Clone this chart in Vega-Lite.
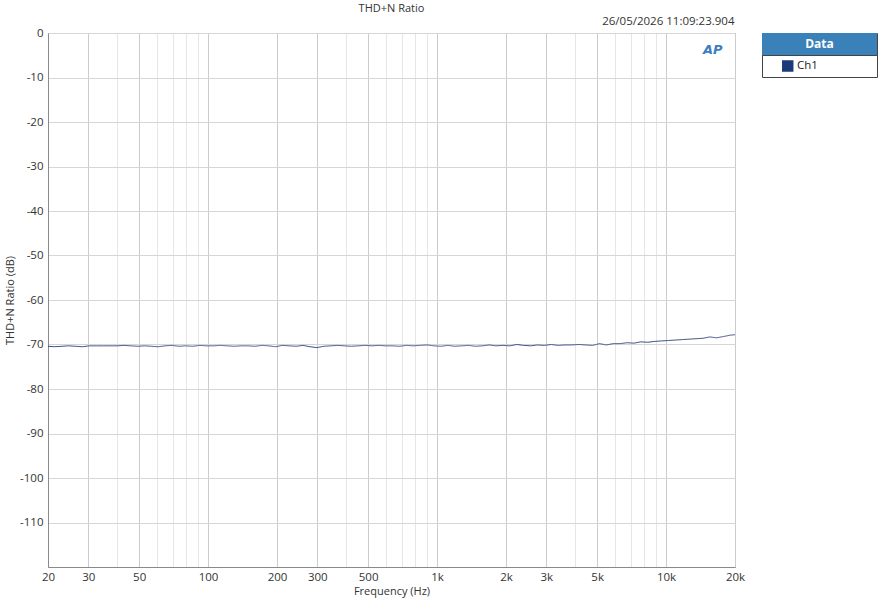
{
  "$schema": "https://vega.github.io/schema/vega-lite/v6.json",
  "width": 687,
  "height": 534,
  "autosize": "none",
  "padding": {"left": 48, "top": 33, "right": 147, "bottom": 33},
  "background": "white",
  "title": {
    "text": "THD+N Ratio",
    "anchor": "middle",
    "frame": "group",
    "fontSize": 11,
    "fontWeight": "normal",
    "color": "#333333",
    "offset": 1
  },
  "datasets": {
    "thd": [
      {"f": 20, "db": -70.4, "series": "Ch1"}, {"f": 21.4, "db": -70.5, "series": "Ch1"},
      {"f": 23.0, "db": -70.4, "series": "Ch1"}, {"f": 24.6, "db": -70.3, "series": "Ch1"},
      {"f": 26.4, "db": -70.4, "series": "Ch1"}, {"f": 28.3, "db": -70.5, "series": "Ch1"},
      {"f": 30.3, "db": -70.3, "series": "Ch1"}, {"f": 32.5, "db": -70.3, "series": "Ch1"},
      {"f": 34.8, "db": -70.3, "series": "Ch1"}, {"f": 37.3, "db": -70.3, "series": "Ch1"},
      {"f": 40, "db": -70.3, "series": "Ch1"}, {"f": 42.9, "db": -70.2, "series": "Ch1"},
      {"f": 45.9, "db": -70.3, "series": "Ch1"}, {"f": 49.2, "db": -70.4, "series": "Ch1"},
      {"f": 52.8, "db": -70.3, "series": "Ch1"}, {"f": 56.6, "db": -70.4, "series": "Ch1"},
      {"f": 60.6, "db": -70.5, "series": "Ch1"}, {"f": 65.0, "db": -70.3, "series": "Ch1"},
      {"f": 69.6, "db": -70.2, "series": "Ch1"}, {"f": 74.6, "db": -70.4, "series": "Ch1"},
      {"f": 80, "db": -70.3, "series": "Ch1"}, {"f": 85.7, "db": -70.4, "series": "Ch1"},
      {"f": 91.9, "db": -70.2, "series": "Ch1"}, {"f": 98.5, "db": -70.3, "series": "Ch1"},
      {"f": 105.6, "db": -70.3, "series": "Ch1"}, {"f": 113.1, "db": -70.2, "series": "Ch1"},
      {"f": 121.3, "db": -70.3, "series": "Ch1"}, {"f": 130, "db": -70.4, "series": "Ch1"},
      {"f": 139.3, "db": -70.3, "series": "Ch1"}, {"f": 149.3, "db": -70.3, "series": "Ch1"},
      {"f": 160, "db": -70.4, "series": "Ch1"}, {"f": 171.5, "db": -70.2, "series": "Ch1"},
      {"f": 183.8, "db": -70.3, "series": "Ch1"}, {"f": 197, "db": -70.5, "series": "Ch1"},
      {"f": 211.1, "db": -70.2, "series": "Ch1"}, {"f": 226.3, "db": -70.3, "series": "Ch1"},
      {"f": 242.5, "db": -70.4, "series": "Ch1"}, {"f": 259.9, "db": -70.2, "series": "Ch1"},
      {"f": 278.6, "db": -70.5, "series": "Ch1"}, {"f": 298.6, "db": -70.7, "series": "Ch1"},
      {"f": 320, "db": -70.4, "series": "Ch1"}, {"f": 343, "db": -70.3, "series": "Ch1"},
      {"f": 367.6, "db": -70.2, "series": "Ch1"}, {"f": 394, "db": -70.3, "series": "Ch1"},
      {"f": 422.2, "db": -70.4, "series": "Ch1"}, {"f": 452.5, "db": -70.3, "series": "Ch1"},
      {"f": 485, "db": -70.2, "series": "Ch1"}, {"f": 519.8, "db": -70.3, "series": "Ch1"},
      {"f": 557.2, "db": -70.2, "series": "Ch1"}, {"f": 597.1, "db": -70.3, "series": "Ch1"},
      {"f": 640, "db": -70.3, "series": "Ch1"}, {"f": 686, "db": -70.4, "series": "Ch1"},
      {"f": 735.2, "db": -70.2, "series": "Ch1"}, {"f": 788, "db": -70.3, "series": "Ch1"},
      {"f": 844.5, "db": -70.2, "series": "Ch1"}, {"f": 905.1, "db": -70.1, "series": "Ch1"},
      {"f": 970, "db": -70.3, "series": "Ch1"}, {"f": 1039.6, "db": -70.4, "series": "Ch1"},
      {"f": 1114.3, "db": -70.2, "series": "Ch1"}, {"f": 1194.3, "db": -70.4, "series": "Ch1"},
      {"f": 1280, "db": -70.3, "series": "Ch1"}, {"f": 1372, "db": -70.2, "series": "Ch1"},
      {"f": 1470, "db": -70.4, "series": "Ch1"}, {"f": 1576, "db": -70.3, "series": "Ch1"},
      {"f": 1689, "db": -70.1, "series": "Ch1"}, {"f": 1810, "db": -70.3, "series": "Ch1"},
      {"f": 1940, "db": -70.2, "series": "Ch1"}, {"f": 2079, "db": -70.3, "series": "Ch1"},
      {"f": 2229, "db": -70.0, "series": "Ch1"}, {"f": 2389, "db": -70.2, "series": "Ch1"},
      {"f": 2560, "db": -70.3, "series": "Ch1"}, {"f": 2744, "db": -70.1, "series": "Ch1"},
      {"f": 2941, "db": -70.2, "series": "Ch1"}, {"f": 3152, "db": -70.0, "series": "Ch1"},
      {"f": 3378, "db": -70.2, "series": "Ch1"}, {"f": 3620, "db": -70.1, "series": "Ch1"},
      {"f": 3880, "db": -70.1, "series": "Ch1"}, {"f": 4159, "db": -70.0, "series": "Ch1"},
      {"f": 4457, "db": -70.1, "series": "Ch1"}, {"f": 4777, "db": -70.2, "series": "Ch1"},
      {"f": 5120, "db": -69.8, "series": "Ch1"}, {"f": 5487, "db": -70.1, "series": "Ch1"},
      {"f": 5881, "db": -69.8, "series": "Ch1"}, {"f": 6303, "db": -69.8, "series": "Ch1"},
      {"f": 6756, "db": -69.6, "series": "Ch1"}, {"f": 7241, "db": -69.7, "series": "Ch1"},
      {"f": 7760, "db": -69.4, "series": "Ch1"}, {"f": 8318, "db": -69.5, "series": "Ch1"},
      {"f": 8915, "db": -69.3, "series": "Ch1"}, {"f": 9554, "db": -69.2, "series": "Ch1"},
      {"f": 10240, "db": -69.1, "series": "Ch1"}, {"f": 10975, "db": -69.0, "series": "Ch1"},
      {"f": 11763, "db": -68.9, "series": "Ch1"}, {"f": 12607, "db": -68.8, "series": "Ch1"},
      {"f": 13512, "db": -68.7, "series": "Ch1"}, {"f": 14482, "db": -68.6, "series": "Ch1"},
      {"f": 15521, "db": -68.3, "series": "Ch1"}, {"f": 16635, "db": -68.5, "series": "Ch1"},
      {"f": 17829, "db": -68.2, "series": "Ch1"}, {"f": 19108, "db": -67.9, "series": "Ch1"},
      {"f": 20000, "db": -67.8, "series": "Ch1"}
    ],
    "logo": [
      {"f": 16000, "db": -3.9, "t": "AP"}
    ]
  },
  "layer": [
    {
      "data": {"name": "thd"},
      "mark": {"type": "line", "strokeWidth": 1, "interpolate": "linear"},
      "encoding": {
        "x": {
          "field": "f",
          "type": "quantitative",
          "scale": {"type": "log", "domain": [20, 20000], "nice": false},
          "axis": {
            "orient": "bottom",
            "values": [20, 30, 40, 50, 60, 70, 80, 90, 100, 200, 300, 400, 500, 600, 700, 800, 900, 1000, 2000, 3000, 4000, 5000, 6000, 7000, 8000, 9000, 10000, 20000],
            "labelExpr": "indexof([20, 30, 50, 100, 200, 300, 500, 1000, 2000, 3000, 5000, 10000, 20000], datum.value) < 0 ? '' : (datum.value >= 1000 ? (datum.value / 1000) + 'k' : '' + datum.value)",
            "labelFlush": false,
            "labelOverlap": false,
            "labelPadding": 4,
            "ticks": false,
            "grid": true,
            "gridColor": {
              "condition": {"test": "indexof([20, 30, 50, 100, 200, 300, 500, 1000, 2000, 3000, 5000, 10000, 20000], datum.value) >= 0", "value": "#cccccc"},
              "value": "#e6e6e6"
            },
            "title": "Frequency (Hz)",
            "titleY": 24,
            "titleBaseline": "middle"
          }
        },
        "y": {
          "field": "db",
          "type": "quantitative",
          "scale": {"domain": [-120, 0], "nice": false},
          "axis": {
            "values": [0, -10, -20, -30, -40, -50, -60, -70, -80, -90, -100, -110],
            "labelExpr": "'' + datum.value",
            "ticks": false,
            "labelPadding": 5,
            "grid": true,
            "gridColor": "#d6d6d6",
            "title": "THD+N Ratio (dB)",
            "titleX": -38,
            "titleY": 267,
            "titleAngle": -90,
            "titleBaseline": "middle",
            "titleAlign": "center"
          }
        },
        "color": {
          "field": "series",
          "type": "nominal",
          "scale": {"range": ["#3a4e86"]},
          "legend": {
            "orient": "none",
            "legendX": 714,
            "legendY": 22,
            "title": null,
            "padding": 0,
            "symbolType": "M-1,-1L-1,1M9.4545,-1L9.4545,1M0.82,-0.52H1.86V0.52H0.82Z",
            "symbolSize": 484,
            "symbolFillColor": "#1b3a7c",
            "symbolStrokeWidth": 0,
            "labelOffset": 13,
            "labelFontSize": 11.5,
            "labelColor": "#222222",
            "fillColor": "white",
            "strokeColor": "#444444"
          }
        },
        "strokeDash": {
          "datum": "Data",
          "type": "nominal",
          "scale": {"range": [[1, 0]]},
          "legend": {
            "orient": "none",
            "legendX": 714,
            "legendY": 0,
            "title": null,
            "padding": 0,
            "symbolType": "M-1,-1H9.4545V1H-1Z",
            "symbolSize": 484,
            "symbolFillColor": "#3a80b9",
            "symbolStrokeWidth": 0,
            "labelAlign": "center",
            "labelOffset": 35.5,
            "labelFontSize": 12,
            "labelFontWeight": "bold",
            "labelColor": "white",
            "strokeColor": "#444444"
          }
        }
      }
    },
    {
      "data": {"name": "logo"},
      "mark": {"type": "text", "font": "DejaVu Sans", "fontStyle": "italic", "fontWeight": "bold", "fontSize": 13, "color": "#3a7fc4"},
      "encoding": {
        "x": {
          "field": "f",
          "type": "quantitative",
          "scale": {"type": "log", "domain": [20, 20000], "nice": false},
          "axis": {
            "orient": "top",
            "labels": false,
            "ticks": false,
            "domain": false,
            "grid": false,
            "title": "26/05/2026 11:09:23.904",
            "titleX": 686,
            "titleY": -12,
            "titleAlign": "right",
            "titleBaseline": "middle",
            "titleFontSize": 11.5
          }
        },
        "y": {"field": "db", "type": "quantitative", "scale": {"domain": [-120, 0], "nice": false}},
        "text": {"field": "t"}
      }
    }
  ],
  "resolve": {"axis": {"x": "independent"}},
  "config": {
    "font": "Open Sans",
    "view": {"stroke": "#8a8a8a", "strokeWidth": 1},
    "axis": {
      "domainColor": "#8a8a8a",
      "labelFont": "Open Sans",
      "labelFontSize": 11.5,
      "labelColor": "#333333",
      "titleFont": "Open Sans",
      "titleFontSize": 11,
      "titleFontWeight": "normal",
      "titleColor": "#333333"
    },
    "legend": {"labelFont": "Open Sans"}
  }
}
